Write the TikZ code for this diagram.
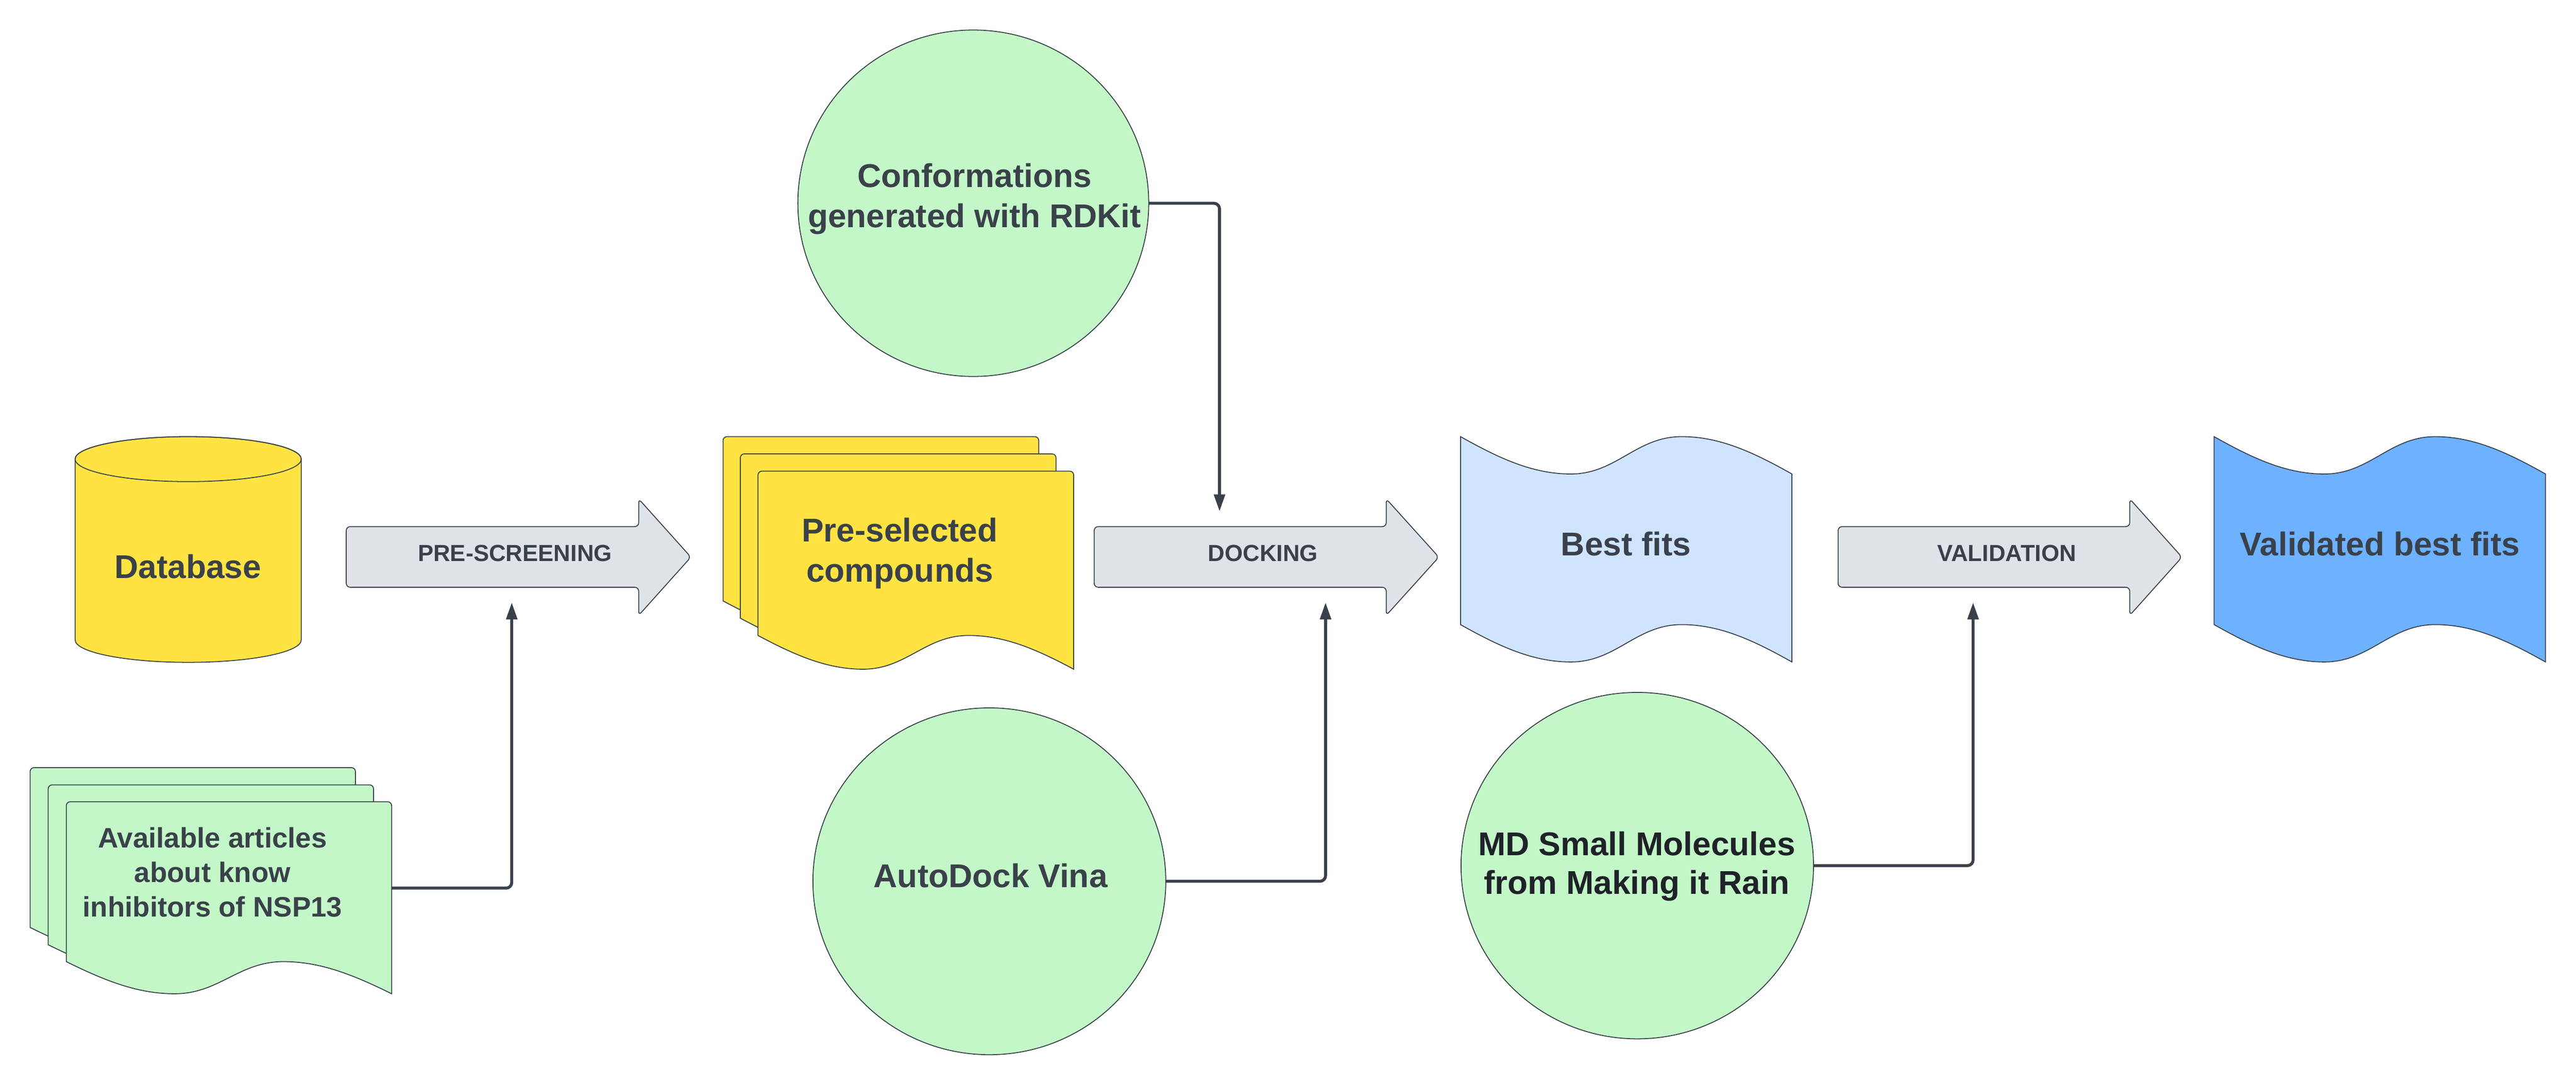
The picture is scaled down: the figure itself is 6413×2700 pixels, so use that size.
\documentclass[tikz,border=0pt]{standalone}
\usepackage{fontspec}
\setmainfont{Liberation Sans}
\usetikzlibrary{arrows.meta,shapes.geometric}
\definecolor{ink}{HTML}{3A414A}
\definecolor{inkdark}{HTML}{1F2228}
\definecolor{yel}{HTML}{FFE342}
\definecolor{grn}{HTML}{C3F7C8}
\definecolor{lblue}{HTML}{CFE4FF}
\definecolor{blu}{HTML}{6DB1FF}
\definecolor{gry}{HTML}{DFE3E8}
% document page: x, y, width, left height, wave amplitude, fill
\newcommand{\docpage}[6]{%
  \filldraw[outl, fill=#6] (#1,{#2+#4}) [rounded corners=2.8pt] -- (#1,#2) -- ({#1+#3},#2) [sharp corners]
    -- ({#1+#3},{#2+#4+#5})
    .. controls ({#1+0.88*#3},{#2+#4+0.4*#5}) and ({#1+0.78*#3},{#2+#4}) .. ({#1+0.667*#3},{#2+#4})
    .. controls ({#1+0.53*#3},{#2+#4}) and ({#1+0.47*#3},{#2+#4+#5}) .. ({#1+0.333*#3},{#2+#4+#5})
    .. controls ({#1+0.22*#3},{#2+#4+#5}) and ({#1+0.12*#3},{#2+#4+0.6*#5}) .. (#1,{#2+#4}) -- cycle;}
% tape: x, y, width, bottom offset, amplitude, fill
\newcommand{\tapeshape}[6]{%
  \filldraw[outl, fill=#6] (#1,#2)
    .. controls ({#1+0.12*#3},{#2+0.6*#5}) and ({#1+0.22*#3},{#2+#5}) .. ({#1+0.333*#3},{#2+#5})
    .. controls ({#1+0.47*#3},{#2+#5}) and ({#1+0.53*#3},#2) .. ({#1+0.667*#3},#2)
    .. controls ({#1+0.78*#3},#2) and ({#1+0.88*#3},{#2+0.4*#5}) .. ({#1+#3},{#2+#5})
    -- ({#1+#3},{#2+#4+#5})
    .. controls ({#1+0.88*#3},{#2+#4+0.4*#5}) and ({#1+0.78*#3},{#2+#4}) .. ({#1+0.667*#3},{#2+#4})
    .. controls ({#1+0.53*#3},{#2+#4}) and ({#1+0.47*#3},{#2+#4+#5}) .. ({#1+0.333*#3},{#2+#4+#5})
    .. controls ({#1+0.22*#3},{#2+#4+#5}) and ({#1+0.12*#3},{#2+#4+0.6*#5}) .. (#1,{#2+#4}) -- cycle;}
% block arrow: x0, head x, tip x
\newcommand{\blockarrow}[3]{%
  \filldraw[outl, fill=gry, rounded corners=2.8pt] (#1,1387) -- (#1,1311) -- (#2,1311) -- (#2,1242)
    -- (#3,1387) -- (#2,1532) -- (#2,1462) -- (#1,1462) -- cycle;}
\tikzset{
  outl/.style={draw=ink, line width=0.65pt},
  bigt/.style={font=\fontsize{23.33pt}{28.45pt}\selectfont\bfseries, text=ink, align=center, inner sep=0pt, anchor=north},
  midt/.style={font=\fontsize{19.92pt}{24.47pt}\selectfont\bfseries, text=ink, align=center, inner sep=0pt, anchor=north},
  arrt/.style={font=\fontsize{16.5pt}{20pt}\selectfont\bfseries, text=ink, inner sep=0pt, anchor=north},
  circ/.style={ellipse, outl, fill=grn, inner sep=0pt, outer sep=0pt},
  conn/.style={draw=ink, line width=2.1pt, rounded corners=4pt, -{Triangle[length=12pt, width=7.7pt]}},
}
\begin{document}
\begin{tikzpicture}[x=0.01cm, y=-0.01cm]
\fill[white] (0,0) rectangle (6413,2700);
\useasboundingbox (0,0) rectangle (6413,2700);

% Database cylinder
\filldraw[outl, fill=yel] (187,1143) -- (187,1593) arc[start angle=180, end angle=0, x radius=281.5, y radius=56]
  -- (750,1143) arc[start angle=0, end angle=-180, x radius=281.5, y radius=56] -- cycle;
\draw[outl] (468.5,1143) ellipse[x radius=281.5, y radius=56];
\node[bigt] (db) at (468,1380) {Database};

% Articles stack
\docpage{75}{1911}{810}{398}{80}{grn}
\docpage{120}{1954}{810}{398}{80}{grn}
\docpage{165}{1996}{810}{398}{80}{grn}
\node[midt] (art) at (529,2059) {Available articles\\about know\\inhibitors of NSP13};
\coordinate (art-e) at (975,2211);

% Pre-selected stack
\docpage{1800}{1087}{786}{409}{84}{yel}
\docpage{1843}{1130}{786}{409}{84}{yel}
\docpage{1887}{1173}{786}{409}{84}{yel}
\node[bigt] (pre) at (2240,1289) {Pre-selected\\compounds};

% Block arrows
\blockarrow{862}{1590}{1720}
\node[arrt] (pres) at (1282,1356) {PRE-SCREENING};
\blockarrow{2724}{3451}{3582}
\node[arrt] (dock) at (3144,1356) {DOCKING};
\blockarrow{4576}{5302}{5432}
\node[arrt] (val) at (4996,1356) {VALIDATION};

% Tapes
\tapeshape{3636}{1087}{825}{468}{93}{lblue}
\node[bigt] (best) at (4048,1323) {Best fits};
\tapeshape{5512}{1087}{825}{468}{93}{blu}
\node[bigt] (vbest) at (5925,1323) {Validated best fits};

% Circles
\node[circ, minimum width=8.73cm, minimum height=8.62cm] (conf) at (2423,506) {};
\node[bigt] (conf-t) at (2426,406) {Conformations\\generated with RDKit};
\node[circ, minimum width=8.78cm, minimum height=8.63cm] (vina) at (2463,2194) {};
\node[bigt] (vina-t) at (2466,2149) {AutoDock Vina};
\node[circ, minimum width=8.77cm, minimum height=8.62cm] (md) at (4076,2155) {};
\node[bigt, text=inkdark, font=\fontsize{23.33pt}{27.3pt}\selectfont\bfseries] (md-t) at (4075,2070) {MD Small Molecules\\from Making it Rain};

% connector ends
\coordinate (pres-in) at (1274,1500);
\coordinate (dock-top) at (3036,1273);
\coordinate (dock-bot) at (3300,1500);
\coordinate (val-in) at (4912,1500);

\draw[conn] (art-e) -| (pres-in);
\draw[conn] (conf.east) -| (dock-top);
\draw[conn] (vina.east) -| (dock-bot);
\draw[conn] (md.east) -| (val-in);
\end{tikzpicture}
\end{document}
